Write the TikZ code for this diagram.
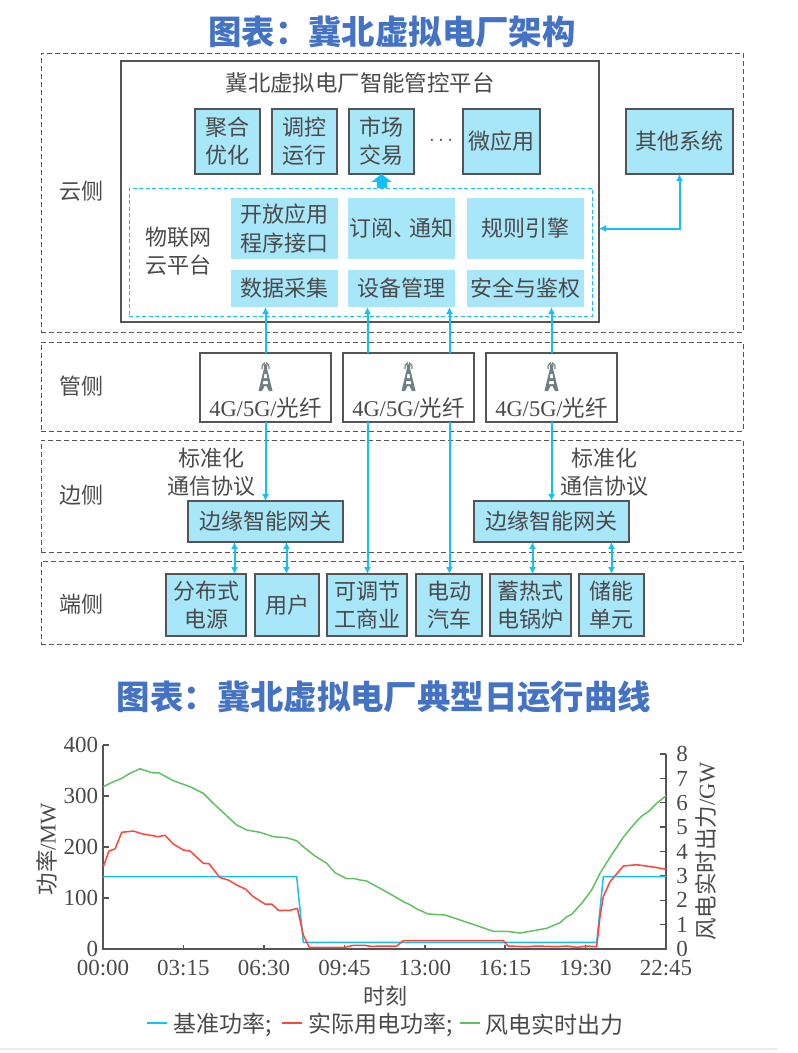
\documentclass[tikz,border=0pt]{standalone}
\usepackage{fontspec}
\usepackage{xcolor}
\setmainfont{Liberation Serif}
\newfontfamily\cjk{Noto Sans CJK SC}
\usetikzlibrary{arrows.meta,positioning}

\definecolor{titleblue}{HTML}{4472C4}
\definecolor{txtgray}{HTML}{4A4A4A}
\definecolor{boxgray}{HTML}{555555}
\definecolor{paleblue}{HTML}{A8E6FA}
\definecolor{linkblue}{HTML}{14C0F5}
\definecolor{curvered}{HTML}{FF4438}
\definecolor{curvegreen}{HTML}{62C063}
\definecolor{towergray}{HTML}{6F8080}
\newcommand{\fsz}[1]{\fontsize{#1}{1.28\dimexpr #1pt\relax}\selectfont}

\begin{document}
\begin{tikzpicture}[x=1pt, y=-1pt,
    >={Latex[length=7pt,width=7pt]},
    every node/.style={inner sep=0pt, outer sep=0pt, text=txtgray, align=center},
    label/.style={font=\cjk\fsz{22}},
    heading/.style={font=\cjk\bfseries\fsz{33.4}, text=titleblue},
    zone/.style={rectangle, draw=boxgray, line width=1pt, dash pattern=on 5pt off 3pt, anchor=north west, minimum width=702pt},
    app/.style={rectangle, draw=boxgray, line width=1.3pt, fill=paleblue, minimum height=65pt, font=\cjk\fsz{22}},
    iotbox/.style={rectangle, fill=paleblue, minimum width=107pt, font=\cjk\fsz{22}},
    netbox/.style={rectangle, draw=boxgray, line width=1.3pt, fill=white, minimum width=131pt, minimum height=69pt},
    gateway/.style={rectangle, draw=boxgray, line width=1.3pt, fill=paleblue, minimum height=41pt, font=\cjk\fsz{22}},
    device/.style={rectangle, draw=boxgray, line width=1.3pt, fill=paleblue, minimum height=62pt, font=\cjk\fsz{22}},
    conn/.style={draw=linkblue, line width=2pt},
    axisline/.style={draw=boxgray, line width=1.2pt},
    curve/.style={line width=1.5pt, line join=round},
    ticknum/.style={font=\fsz{23}},
    tower/.pic={
      \fill[towergray] (-7,15) -- (-1.2,-9) -- (1.2,-9) -- (7,15) -- (3.5,15) -- (1,10) -- (-1,10) -- (-3.5,15) -- cycle;
      \fill[white] (-1,-2) -- (1,-2) -- (1.6,2) -- (-1.6,2) -- cycle;
      \fill[white] (-2,5) -- (2,5) -- (2.6,8) -- (-2.6,8) -- cycle;
      \fill[towergray] (0,-10) circle (2pt);
      \draw[towergray, line width=1.2pt] (-3.5,-7) arc[start angle=200, end angle=110, radius=5pt];
      \draw[towergray, line width=1.2pt] (3.5,-7) arc[start angle=-20, end angle=70, radius=5pt];
    }]

  \useasboundingbox (0,0) rectangle (798,1053);

  \node[heading] (title1) at (392,32) {图表：冀北虚拟电厂架构};
  \node[heading] (title2) at (384,697) {图表：冀北虚拟电厂典型日运行曲线};

  % four dashed layers
  \node[zone, minimum height=279pt] (cloud) at (41,53) {};
  \node[zone, minimum height=89pt] (pipe) at (41,342) {};
  \node[zone, minimum height=112pt] (edge) at (41,440) {};
  \node[zone, minimum height=83pt] (term) at (41,561) {};
  \node[label] at (81,191) {云侧};
  \node[label] at (81,386) {管侧};
  \node[label] at (81,495) {边侧};
  \node[label] at (81,604) {端侧};

  % platform
  \node[rectangle, draw=boxgray, line width=1.5pt, anchor=north west, minimum width=478pt, minimum height=261pt] (platform) at (121,61) {};
  \node[font=\cjk\fsz{22.4}] (ptitle) at (360,83) {冀北虚拟电厂智能管控平台};
  \node[app, minimum width=65pt, anchor=north west] (agg) at (195,109) {聚合\\优化};
  \node[app, minimum width=65pt, right=12pt of agg] (ctrl) {调控\\运行};
  \node[app, minimum width=65pt, right=12pt of ctrl] (market) {市场\\交易};
  \node[font=\fsz{20}, right=15pt of market, yshift=1pt] (dots) {$\cdots$};
  \node[app, minimum width=77pt, right=49pt of market] (micro) {微应用};
  \node[app, minimum width=107pt, anchor=north west] (other) at (626,109) {其他系统};

  \node[rectangle, draw=linkblue, line width=1pt, dash pattern=on 4pt off 2.5pt, anchor=north west, minimum width=463pt, minimum height=128pt] (iot) at (129,188) {};
  \node[label] (iotname) at (178,251) {物联网\\云平台};
  \node[iotbox, minimum height=61pt, anchor=north west] (api) at (231,198) {开放应用\\程序接口};
  \node[iotbox, minimum height=61pt, right=10pt of api] (sub) {订阅、\kern-6pt通知};
  \node[iotbox, minimum height=61pt, minimum width=117pt, right=12pt of sub] (rule) {规则引擎};
  \node[iotbox, minimum height=37pt, below=11pt of api] (collect) {数据采集};
  \node[iotbox, minimum height=37pt, below=11pt of sub] (manage) {设备管理};
  \node[iotbox, minimum height=37pt, minimum width=117pt, below=11pt of rule] (auth) {安全与鉴权};

  % network boxes
  \node[netbox, anchor=north west] (net1) at (200,353) {};
  \node[netbox, right=12pt of net1] (net2) {};
  \node[netbox, right=12pt of net2] (net3) {};
  \foreach \n in {net1,net2,net3} {
    \path (\n.north) ++(0,23) pic {tower};
    \node[font=\fsz{22.5}] at ([yshift=14pt]\n.south) {4G/5G/{\cjk 光纤}};
  }

  % gateways
  \node[gateway, minimum width=155pt, anchor=north west] (gate1) at (188,501) {边缘智能网关};
  \node[gateway, minimum width=155pt, anchor=north west] (gate2) at (474,501) {边缘智能网关};
  \node[label] (proto1) at (211,472.5) {标准化\\通信协议};
  \node[label] (proto2) at (604,472.5) {标准化\\通信协议};

  % terminal devices
  \node[device, minimum width=80pt, anchor=north west] (dist) at (166,574) {分布式\\电源};
  \node[device, minimum width=64pt, right=9pt of dist] (user) {用户};
  \node[device, minimum width=80pt, right=8pt of user] (ind) {可调节\\工商业};
  \node[device, minimum width=66pt, right=9pt of ind] (ev) {电动\\汽车};
  \node[device, minimum width=81pt, right=8pt of ev] (boiler) {蓄热式\\电锅炉};
  \node[device, minimum width=65pt, right=8pt of boiler] (store) {储能\\单元};

  % connectors
  \draw[-{Triangle[length=8pt,width=20pt]}, draw=linkblue, fill=linkblue, line width=10pt] (market.south |- iot.north) -- (market.south);
  \draw[->, conn] (net1.north) -- (net1.north |- collect.south);
  \draw[->, conn] ([xshift=-41pt]net2.north) -- ([xshift=-41pt]net2.north |- manage.south);
  \draw[->, conn] ([xshift=41pt]net2.north) -- ([xshift=41pt]net2.north |- manage.south);
  \draw[->, conn] (net3.north) -- (net3.north |- auth.south);
  \draw[->, conn] (net1.south) -- (gate1.north);
  \draw[->, conn] ([xshift=-41pt]net2.south) -- ([xshift=-41pt]net2.south |- ind.north);
  \draw[->, conn] ([xshift=41pt]net2.south) -- ([xshift=41pt]net2.south |- ev.north);
  \draw[->, conn] (net3.south) -- (gate2.north);
  \draw[<->, conn] (dist.north -| 234.5,0) -- (gate1.south -| 234.5,0);
  \draw[<->, conn] (user.north -| 286.5,0) -- (gate1.south -| 286.5,0);
  \draw[<->, conn] (boiler.north -| 532.5,0) -- (gate2.south -| 532.5,0);
  \draw[<->, conn] (store.north) -- (gate2.south -| store.north);
  \coordinate (platin) at (platform.east |- 0,228.5);
  \draw[<->, conn] (other.south) |- (platin);

  % lower chart
  \fill[blue!8] (0,1048) rectangle (778,1050);
  \draw[axisline] (103,745) -- (103,949) -- (666,949) -- (666,754);
  \foreach \yv/\ytxt in {745/400,796/300,847/200,898/100,949/0} {
    \draw[axisline] (103,\yv) -- (109,\yv);
    \node[ticknum, anchor=east] at (98,\yv) {\ytxt};
  }
  \foreach \yv [count=\i from 0] in {949,924.6,900.3,876,851.5,827,802.8,778.5,754} {
    \draw[axisline] (666,\yv) -- (660,\yv);
    \node[ticknum] at (682,\yv) {\i};
  }
  \foreach \xv/\xtxt in {103/00:00,183.3/03:15,264/06:30,344.5/09:45,425/13:00,505/16:15,585.5/19:30,666/22:45} {
    \draw[axisline] (\xv,949) -- (\xv,944.5);
    \node[ticknum] at (\xv,968.5) {\xtxt};
  }
  \draw[curve, curvegreen] plot coordinates {(103.3,786.7) (110,783.3) (121.7,778.3) (130,773.3) (140,768.7) (151.7,772.7) (159.3,773) (173.3,780.7) (190,786.7) (203.3,793.3) (213.3,803.3) (228.3,817.3) (236.7,825) (246.7,830) (260,832.3) (273.3,836.7) (286.7,837.7) (296.7,840.7) (303.3,846.7) (315,856) (326.7,863.3) (335,872.7) (346.7,878.7) (355,878.7) (360,880) (366.7,881) (380,888.3) (393.3,895.7) (403.3,901.7) (410,904.7) (416.7,909) (428.3,914) (445,915) (460,920) (480,926.7) (493.3,931.3) (506.7,931.3) (520,933) (530,931.3) (546.7,928.3) (560,922.7) (566.7,916.7) (571.7,914.3) (581.7,903.3) (591.7,890) (600,873.3) (610,857.3) (623.3,837.3) (633.3,825) (641.7,816) (648.3,811.7) (656.7,803.3) (666,795.7)};
  \draw[curve, linkblue] (103,876.7) -- (296.7,876.7) -- (303.3,942.3) -- (596.7,942.3) -- (603.3,876.7) -- (666,876.7);
  \draw[curve, curvered] plot coordinates {(103.3,866.7) (109,851) (115,849) (121.7,832.3) (133.3,831) (141.7,833.7) (158.3,836.7) (165,835.3) (173.3,844) (183.3,850) (190,851) (203.3,863.3) (209,863.7) (220,877.7) (228.3,880) (236.7,885) (246,889.3) (253.3,896.7) (265,904) (271.7,904) (278.3,910.3) (290,910.3) (297.3,908.3) (300,920) (303.3,935) (309.3,947.3) (345,947.3) (353.3,945.3) (365,945.3) (370,946.3) (396.7,946) (403.3,940.7) (503.3,940.7) (508.3,946) (526.7,946.7) (536.7,946) (556.7,946.7) (566.7,946) (576.7,947.3) (586.7,946) (596.7,946.7) (600,916.7) (603.3,896.7) (610,881.7) (623.3,866) (636.7,864.7) (653.3,867) (666,869.3)};

  \node[rotate=90, font=\fsz{22.5}] (ylabel) at (47,849) {{\cjk 功率}/MW};
  \node[rotate=90, font=\fsz{22.5}] (y2label) at (706,851.5) {{\cjk 风电实时出力}/GW};
  \node[label] (xlabel) at (385,996) {时刻};

  % legend
  \draw[curve, linkblue] (147,1023) -- (167,1023);
  \node[font=\cjk\fsz{23}, anchor=west] (leg1) at (173,1025) {基准功率;};
  \draw[curve, curvered] (282,1023) -- (302,1023);
  \node[font=\cjk\fsz{23}, anchor=west] (leg2) at (308,1025) {实际用电功率;};
  \draw[curve, curvegreen] (460,1023) -- (480,1023);
  \node[font=\cjk\fsz{23}, anchor=west] (leg3) at (485,1025) {风电实时出力};
\end{tikzpicture}
\end{document}
